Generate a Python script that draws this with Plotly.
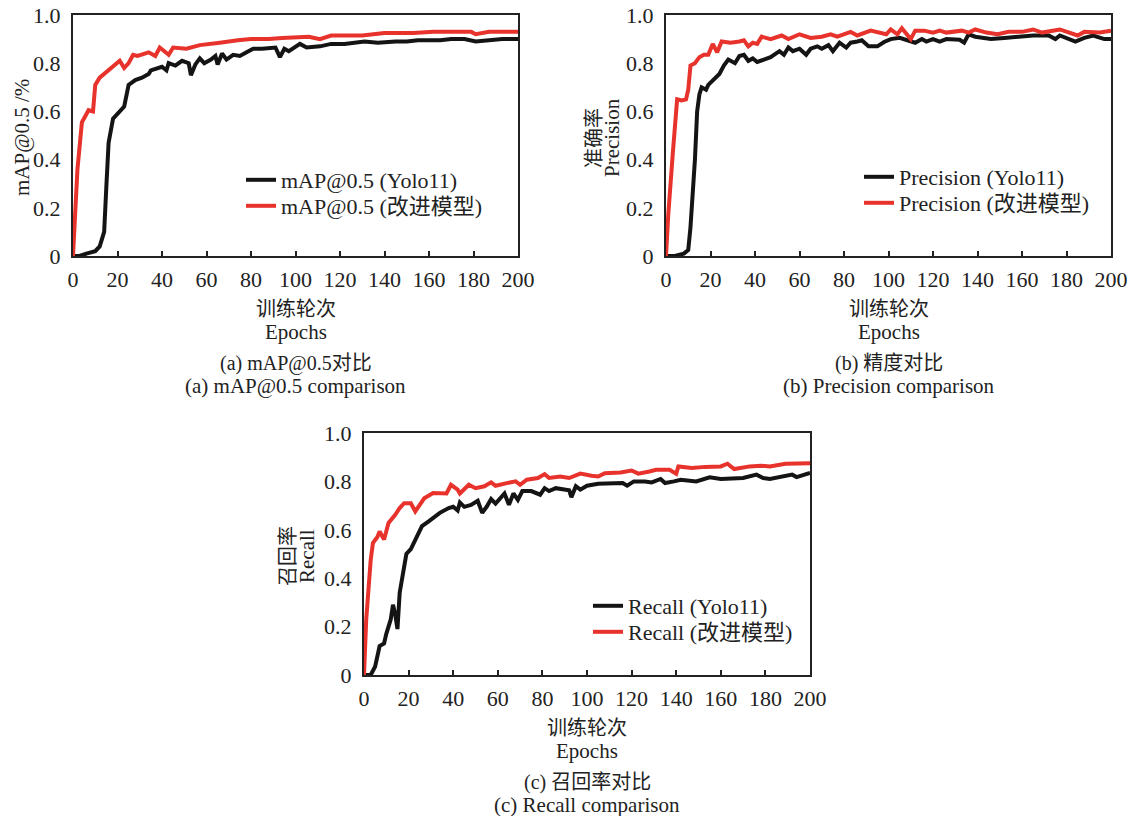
import plotly.graph_objects as go

W, H = 1132, 816

# epochs and values, (a) mAP@0.5
map_yolo_ep = [0, 3, 6, 9, 10, 12, 14, 15, 16, 18, 21, 23, 25, 28, 31, 34, 35, 40, 42, 43, 46, 49, 52, 53,
               55, 57, 59, 62, 64, 65, 67, 69, 72, 75, 78, 81, 85, 91, 93, 95, 97, 102, 105, 111, 116,
               122, 131, 137, 145, 150, 155, 160, 165, 170, 176, 181, 187, 193, 200]
map_yolo = [0.0, 0.0, 0.01, 0.015, 0.02, 0.04, 0.10, 0.29, 0.47, 0.57, 0.60, 0.62, 0.71, 0.73, 0.74,
            0.755, 0.77, 0.785, 0.77, 0.80, 0.79, 0.81, 0.80, 0.75, 0.795, 0.82, 0.80, 0.815, 0.83,
            0.795, 0.84, 0.815, 0.835, 0.83, 0.845, 0.86, 0.86, 0.865, 0.825, 0.86, 0.85, 0.88, 0.865,
            0.87, 0.88, 0.88, 0.89, 0.885, 0.89, 0.89, 0.895, 0.895, 0.895, 0.90, 0.90, 0.89, 0.895,
            0.90, 0.90]
map_new_ep = [0, 1, 2, 4, 6, 7, 9, 10, 12, 14, 17, 19, 21, 23, 25, 27, 29, 34, 37, 39, 41, 43, 45, 51,
              57, 63, 66, 74, 80, 88, 94, 106, 111, 116, 130, 140, 153, 162, 179, 181, 187, 200]
map_new = [0.0, 0.2, 0.36, 0.555, 0.59, 0.605, 0.60, 0.71, 0.74, 0.755, 0.78, 0.795, 0.81, 0.78, 0.80,
           0.835, 0.83, 0.845, 0.83, 0.865, 0.85, 0.835, 0.865, 0.86, 0.875, 0.88, 0.885, 0.895, 0.90,
           0.90, 0.905, 0.91, 0.90, 0.915, 0.915, 0.925, 0.925, 0.93, 0.93, 0.92, 0.93, 0.93]

# (b) precision
prec_yolo_ep = [0, 4, 8, 9, 10, 11, 12, 13, 14, 15, 16, 18, 19, 21, 24, 26, 28, 31, 33, 35, 37, 39, 41,
                44, 47, 51, 53, 55, 57, 60, 63, 65, 68, 70, 73, 75, 78, 81, 83, 86, 88, 91, 95, 98, 101,
                105, 110, 112, 115, 117, 120, 123, 126, 132, 134, 136, 139, 146, 152, 159, 165, 172,
                175, 177, 180, 184, 188, 192, 197, 200]
prec_yolo = [0.0, 0.0, 0.01, 0.02, 0.025, 0.12, 0.25, 0.40, 0.60, 0.67, 0.70, 0.69, 0.71, 0.73, 0.755,
             0.79, 0.815, 0.80, 0.83, 0.835, 0.81, 0.82, 0.805, 0.815, 0.825, 0.85, 0.835, 0.865, 0.85,
             0.86, 0.835, 0.86, 0.87, 0.86, 0.875, 0.85, 0.885, 0.865, 0.885, 0.89, 0.895, 0.87, 0.87,
             0.888, 0.90, 0.905, 0.89, 0.885, 0.90, 0.89, 0.90, 0.89, 0.90, 0.897, 0.885, 0.92, 0.91,
             0.90, 0.905, 0.91, 0.915, 0.915, 0.90, 0.915, 0.905, 0.89, 0.905, 0.915, 0.90, 0.90]
prec_new_ep = [0, 1, 3, 5, 7, 9, 10, 11, 13, 15, 17, 19, 21, 22, 23, 25, 29, 33, 35, 37, 39, 41, 43, 47,
               52, 55, 60, 65, 70, 74, 77, 83, 86, 92, 97, 99, 101, 104, 106, 109, 110, 112, 116, 120,
               123, 126, 133, 136, 139, 144, 149, 154, 160, 165, 169, 177, 182, 185, 188, 195, 200]
prec_new = [0.0, 0.17, 0.42, 0.65, 0.645, 0.65, 0.69, 0.79, 0.80, 0.825, 0.835, 0.835, 0.88, 0.86, 0.845,
            0.89, 0.885, 0.89, 0.895, 0.87, 0.885, 0.88, 0.91, 0.90, 0.915, 0.90, 0.92, 0.905, 0.91,
            0.92, 0.91, 0.93, 0.915, 0.935, 0.927, 0.92, 0.94, 0.92, 0.945, 0.913, 0.90, 0.935, 0.935,
            0.927, 0.935, 0.927, 0.935, 0.927, 0.94, 0.927, 0.92, 0.93, 0.93, 0.94, 0.927, 0.94, 0.927,
            0.915, 0.93, 0.927, 0.935]

# (c) recall
rec_yolo_ep = [0, 3, 5, 6, 7, 9, 10, 12, 13, 14, 15, 16, 18, 19, 21, 22, 25, 26, 29, 31, 34, 38, 40, 42,
               43, 45, 48, 51, 53, 55, 57, 59, 61, 63, 65, 67, 69, 71, 75, 79, 81, 83, 86, 89, 92, 93,
               95, 97, 100, 105, 112, 116, 118, 121, 126, 129, 133, 135, 139, 142, 149, 155, 160, 165,
               170, 176, 179, 182, 187, 192, 194, 200]
rec_yolo = [0.0, 0.0, 0.035, 0.08, 0.12, 0.13, 0.17, 0.23, 0.29, 0.25, 0.19, 0.34, 0.435, 0.50, 0.52,
            0.54, 0.60, 0.615, 0.635, 0.65, 0.67, 0.69, 0.695, 0.68, 0.713, 0.695, 0.703, 0.72, 0.67,
            0.695, 0.727, 0.708, 0.73, 0.75, 0.703, 0.75, 0.724, 0.76, 0.76, 0.745, 0.772, 0.76, 0.772,
            0.766, 0.763, 0.735, 0.78, 0.766, 0.782, 0.79, 0.79, 0.793, 0.782, 0.80, 0.80, 0.796, 0.81,
            0.793, 0.80, 0.807, 0.80, 0.817, 0.81, 0.814, 0.814, 0.828, 0.814, 0.81, 0.82, 0.828, 0.818,
            0.835]
rec_new_ep = [0, 1, 3, 4, 6, 7, 9, 11, 14, 16, 18, 21, 23, 25, 27, 31, 37, 39, 42, 43, 47, 50, 54, 57,
              59, 64, 68, 70, 73, 78, 81, 83, 88, 92, 97, 102, 105, 108, 115, 120, 123, 128, 131, 137,
              140, 141, 147, 153, 160, 163, 166, 173, 178, 182, 189, 200]
rec_new = [0.0, 0.23, 0.475, 0.545, 0.57, 0.593, 0.56, 0.628, 0.662, 0.69, 0.71, 0.71, 0.676, 0.703,
           0.73, 0.752, 0.75, 0.786, 0.766, 0.75, 0.786, 0.772, 0.78, 0.796, 0.782, 0.793, 0.80, 0.786,
           0.807, 0.814, 0.83, 0.814, 0.82, 0.814, 0.832, 0.823, 0.82, 0.834, 0.837, 0.845, 0.832,
           0.841, 0.848, 0.848, 0.832, 0.862, 0.855, 0.86, 0.862, 0.873, 0.851, 0.862, 0.865, 0.862,
           0.873, 0.875]

x_ticks = list(range(0, 201, 20))
y_ticks = [0, 0.2, 0.4, 0.6, 0.8, 1.0]
y_tick_text = ["0", "0.2", "0.4", "0.6", "0.8", "1.0"]

BLACK = "#141414"
RED = "#e8322c"
INK = "#222222"
FONT = "Liberation Serif, Noto Sans CJK SC, serif"


def px_x(x):
    return x / W


def px_y(y):
    return 1 - y / H


# plot boxes in screen pixels: left, right, top, bottom
boxes = [(73, 518, 15, 256), (666, 1111, 15, 256), (364, 810, 433, 675)]

series = [
    (map_yolo_ep, map_yolo, map_new_ep, map_new, "mAP@0.5"),
    (prec_yolo_ep, prec_yolo, prec_new_ep, prec_new, "Precision"),
    (rec_yolo_ep, rec_yolo, rec_new_ep, rec_new, "Recall"),
]

# legend rows: symbol start x, row y for black and red entries
legend_rows = [(246, 180, 206), (864, 177, 203), (593, 606, 632)]

fig = go.Figure()

layout = dict(
    width=W, height=H,
    margin=dict(l=0, r=0, t=0, b=0, autoexpand=False),
    paper_bgcolor="white", plot_bgcolor="white",
    font=dict(family=FONT, size=21, color=INK),
    showlegend=True,
)

tick_font = dict(family=FONT, size=22, color=INK)

for i, ((ex1, v1, ex2, v2, name), (l, r, t, b), (lx, ly1, ly2)) in enumerate(zip(series, boxes, legend_rows)):
    sfx = "" if i == 0 else str(i + 1)
    lg1 = "legend" + ("" if i == 0 else str(2 * i + 1))
    lg2 = "legend" + str(2 * i + 2)
    fig.add_trace(go.Scatter(x=ex1, y=v1, mode="lines", name=name + " (Yolo11)",
                             line=dict(color=BLACK, width=4),
                             xaxis="x" + sfx, yaxis="y" + sfx, legend=lg1))
    fig.add_trace(go.Scatter(x=ex2, y=v2, mode="lines", name=name + " (改进模型)",
                             line=dict(color=RED, width=4),
                             xaxis="x" + sfx, yaxis="y" + sfx, legend=lg2))
    for lg, ly in ((lg1, ly1), (lg2, ly2)):
        layout[lg] = dict(
            x=px_x(lx - 5), y=px_y(ly), xanchor="left", yanchor="middle",
            bgcolor="rgba(0,0,0,0)", font=dict(family=FONT, size=22, color=INK),
        )
    layout["xaxis" + sfx] = dict(
        domain=[px_x(l), px_x(r)], range=[0, 200], anchor="y" + sfx,
        tickvals=x_ticks, ticks="inside", ticklen=5, tickwidth=1.5, tickcolor=INK,
        showline=True, mirror=True, linecolor=INK, linewidth=2, tickfont=tick_font,
        showgrid=False, zeroline=False, ticklabelstandoff=3, automargin=False,
        ticklabeloverflow="allow",
    )
    layout["yaxis" + sfx] = dict(
        domain=[px_y(b), px_y(t)], range=[0, 1], anchor="x" + sfx,
        tickvals=y_ticks, ticktext=y_tick_text, ticks="", tickfont=tick_font,
        showline=True, mirror=True, linecolor=INK, linewidth=2,
        showgrid=False, zeroline=False, ticklabelstandoff=6, automargin=False,
        ticklabeloverflow="allow",
    )

fig.update_layout(**layout)


def note(text, x, y, angle=0, size=21):
    fig.add_annotation(text=text, x=px_x(x), y=px_y(y), xref="paper", yref="paper",
                       showarrow=False, textangle=angle, xanchor="center", yanchor="middle",
                       font=dict(family=FONT, size=size, color=INK))


captions = [("(a) mAP@0.5对比", "(a) mAP@0.5 comparison"),
            ("(b) 精度对比", "(b) Precision comparison"),
            ("(c) 召回率对比", "(c) Recall comparison")]

for (l, r, t, b), (c1, c2) in zip(boxes, captions):
    cx = (l + r) / 2
    note("训练轮次", cx, b + 53, size=20)
    note("Epochs", cx, b + 76)
    note(c1, cx, b + 107, size=20)
    note(c2, cx, b + 130)

# y axis titles
note("mAP@0.5 /%", 22, 138, -90)
note("准确率", 594, 138, -90, size=20)
note("Precision", 612, 138, -90)
note("召回率", 288, 556, -90, size=20)
note("Recall", 307, 556, -90)

# drop the page's default body margin so the figure sits at the window's corner
fig.write_html("out.html", config={"displayModeBar": False},
               post_script="document.body.style.margin = '0';")
